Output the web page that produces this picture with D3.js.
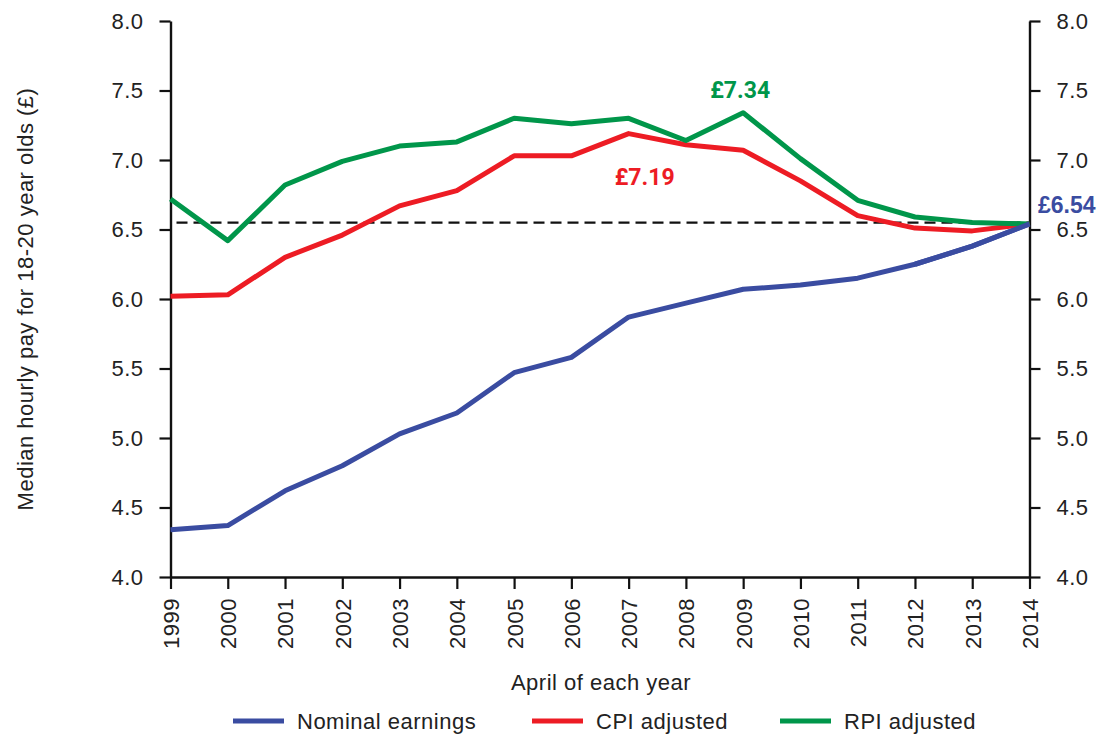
<!DOCTYPE html>
<html>
<head>
<meta charset="utf-8">
<script src="https://cdn.jsdelivr.net/npm/d3@7/dist/d3.min.js"></script>
<style>
  html, body { margin: 0; padding: 0; background: #ffffff; }
  svg { display: block; }
  .tick text, .lbl { font-family: "Liberation Sans", Arial, sans-serif; fill: #222; letter-spacing: 0.5px; }
</style>
</head>
<body>
<svg id="chart" width="1105" height="735"></svg>
<script>
// Median hourly pay for 18-20 year olds, April of each year
const years = [1999, 2000, 2001, 2002, 2003, 2004, 2005, 2006, 2007, 2008, 2009, 2010, 2011, 2012, 2013, 2014];
const nominal = [4.34, 4.37, 4.62, 4.80, 5.03, 5.18, 5.47, 5.58, 5.87, 5.97, 6.07, 6.10, 6.15, 6.25, 6.38, 6.54];
const cpiAdjusted = [6.02, 6.03, 6.30, 6.46, 6.67, 6.78, 7.03, 7.03, 7.19, 7.11, 7.07, 6.85, 6.60, 6.51, 6.49, 6.54];
const rpiAdjusted = [6.72, 6.42, 6.82, 6.99, 7.10, 7.13, 7.30, 7.26, 7.30, 7.14, 7.34, 7.01, 6.71, 6.59, 6.55, 6.54];
const yTicks = [4.0, 4.5, 5.0, 5.5, 6.0, 6.5, 7.0, 7.5, 8.0];
const referenceLevel = 6.55;   // 2014 nominal level carried back

const seriesNames = ["Nominal earnings", "CPI adjusted", "RPI adjusted"];
const seriesColors = ["#3a4ca1", "#ed1c24", "#00964a"];
const seriesValues = [nominal, cpiAdjusted, rpiAdjusted];

// Value callouts: series index, year, offset from the point
const callouts = [
  { s: 2, year: 2009, dx: -3, dy: -15, size: 23, anchor: "middle", font: "Roboto, 'Liberation Sans', sans-serif" },
  { s: 1, year: 2007, dx: 16, dy: 51, size: 23, anchor: "middle", font: "Roboto, 'Liberation Sans', sans-serif" },
  { s: 0, year: 2014, dx: 8.5, dy: -11, size: 23, anchor: "start", font: "'Liberation Sans', Arial, sans-serif" }
];

const svg = d3.select("#chart");
const plotLeft = 170.5, plotRight = 1029.5, plotTop = 21, plotBottom = 577;

const x = d3.scaleLinear().domain([1999, 2014]).range([plotLeft, plotRight]);
const y = d3.scaleLinear().domain([4, 8]).range([plotBottom, plotTop]);

const fmt = d3.format(".1f");

function styleAxis(g) {
  g.selectAll(".domain").attr("stroke", "#111").attr("stroke-width", 2.4);
  g.selectAll(".tick line").attr("stroke", "#111").attr("stroke-width", 2.2);
  g.selectAll(".tick text").attr("font-size", 22);
  g.attr("font-family", null);
}

// Left axis
svg.append("g")
  .attr("transform", `translate(${plotLeft},0)`)
  .call(d3.axisLeft(y).tickValues(yTicks).tickFormat(fmt).tickSize(11).tickSizeOuter(0).tickPadding(16))
  .call(styleAxis);

// Right axis
svg.append("g")
  .attr("transform", `translate(${plotRight},0)`)
  .call(d3.axisRight(y).tickValues(yTicks).tickFormat(fmt).tickSize(11).tickSizeOuter(0).tickPadding(16))
  .call(styleAxis);

// Bottom axis with rotated year labels
const xAxisG = svg.append("g")
  .attr("transform", `translate(0,${plotBottom})`)
  .call(d3.axisBottom(x).tickValues(years).tickFormat(d3.format("d")).tickSize(12).tickSizeOuter(0))
  .call(styleAxis);
xAxisG.selectAll(".tick text")
  .attr("transform", "rotate(-90)")
  .attr("text-anchor", "end")
  .attr("x", -21)
  .attr("y", 0)
  .attr("dy", "0.36em");

// Dashed reference line
svg.append("line")
  .attr("x1", x(1999) + 6).attr("x2", x(2014))
  .attr("y1", y(referenceLevel)).attr("y2", y(referenceLevel))
  .attr("stroke", "#111").attr("stroke-width", 2.2)
  .attr("stroke-dasharray", "11,6");

// Series lines
const line = d3.line().x((d, i) => x(years[i])).y(d => y(d));
seriesValues.forEach((vals, k) => {
  svg.append("path")
    .datum(vals)
    .attr("d", line)
    .attr("fill", "none")
    .attr("stroke", seriesColors[k])
    .attr("stroke-width", 5)
    .attr("stroke-linejoin", "round");
});

// Redraw the last stretch of nominal on top so it meets the other series cleanly
svg.append("path")
  .datum(nominal.slice(-3))
  .attr("d", d3.line().x((d, i) => x(years[years.length - 3 + i])).y(d => y(d)))
  .attr("fill", "none")
  .attr("stroke", seriesColors[0])
  .attr("stroke-width", 5)
  .attr("stroke-linejoin", "round");

// Value callouts
callouts.forEach(c => {
  const i = years.indexOf(c.year);
  const v = seriesValues[c.s][i];
  svg.append("text")
    .attr("x", x(c.year) + c.dx)
    .attr("y", y(v) + c.dy)
    .attr("text-anchor", c.anchor)
    .attr("font-family", c.font)
    .attr("font-weight", "bold")
    .attr("font-size", c.size)
    .attr("fill", seriesColors[c.s])
    .text("£" + d3.format(".2f")(v));
});

// Axis titles
svg.append("text")
  .attr("class", "lbl")
  .attr("transform", `translate(33,${(plotTop + plotBottom) / 2}) rotate(-90)`)
  .attr("text-anchor", "middle")
  .attr("font-size", 22)
  .text("Median hourly pay for 18-20 year olds (£)");

svg.append("text")
  .attr("class", "lbl")
  .attr("x", (plotLeft + plotRight) / 2 + 1)
  .attr("y", 690)
  .attr("text-anchor", "middle")
  .attr("font-size", 22)
  .text("April of each year");

// Legend
const legendStarts = [233, 532, 780];
seriesNames.forEach((name, k) => {
  const g = svg.append("g").attr("transform", `translate(${legendStarts[k]},721)`);
  g.append("line")
    .attr("x1", 0).attr("x2", 51)
    .attr("y1", 0).attr("y2", 0)
    .attr("stroke", seriesColors[k])
    .attr("stroke-width", 5);
  g.append("text")
    .attr("class", "lbl")
    .attr("x", 64)
    .attr("y", 8)
    .attr("font-size", 22)
    .text(name);
});
</script>
</body>
</html>
